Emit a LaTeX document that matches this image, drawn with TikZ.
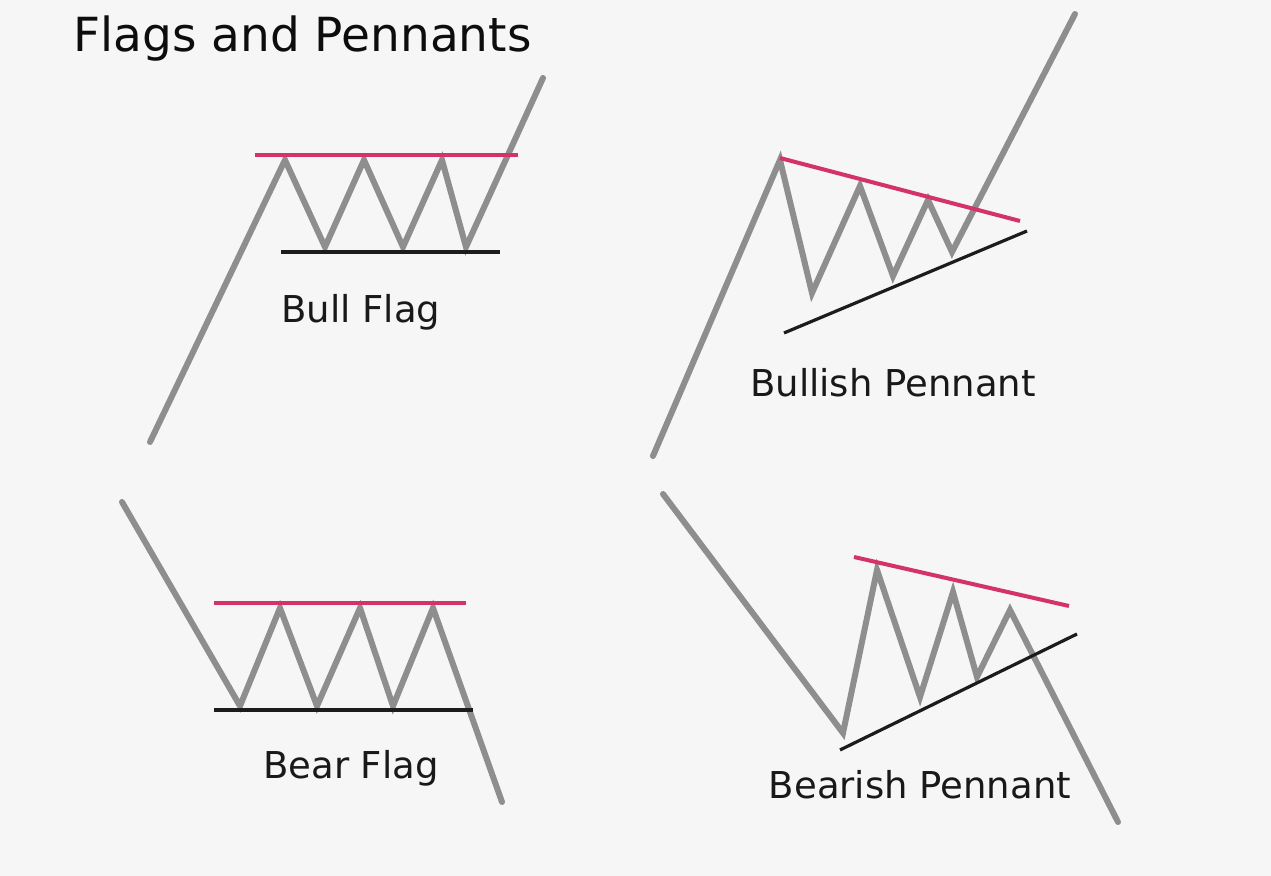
\documentclass[tikz,border=0pt]{standalone}
\usepackage{fontspec}
\setmainfont{DejaVu Sans}
\usetikzlibrary{positioning}
\definecolor{bgcol}{HTML}{F6F6F6}
\definecolor{pricecol}{HTML}{8E8E8E}
\definecolor{rescol}{HTML}{D4336A}
\definecolor{supcol}{HTML}{1C1C1C}

\begin{document}
\begin{tikzpicture}[
    x=0.5pt, y=-0.5pt,
    price/.style={draw=pricecol, line width=3pt, line join=miter, line cap=round},
    resist/.style={draw=rescol, line width=2pt},
    support/.style={draw=supcol, line width=1.6pt},
    patname/.style={font=\fontsize{18.5}{21}\selectfont, text=black!90, inner sep=0pt},
    headline/.style={font=\fontsize{23.5}{27}\selectfont, text=black!95, inner sep=0pt}
]
    % Background
    \fill[bgcol] (0,0) rectangle (1271,876);
    \useasboundingbox (0,0) rectangle (1271,876);

    % Title
    \node[headline, anchor=base west] (title) at (73,52) {Flags and Pennants};

    % Bull flag
    \coordinate (bf0) at (150,442);
    \coordinate (bf1) at (285,160);
    \coordinate (bf2) at (325,247);
    \coordinate (bf3) at (364,160);
    \coordinate (bf4) at (403,247);
    \coordinate (bf5) at (442,160);
    \coordinate (bf6) at (466,247);
    \coordinate (bf7) at (543,78);
    \coordinate (bfr1) at (255,155);
    \coordinate (bfr2) at (518,155);
    \coordinate (bfs1) at (281,252);
    \coordinate (bfs2) at (500,252);
    \draw[price] (bf0) -- (bf1) -- (bf2) -- (bf3) -- (bf4) -- (bf5) -- (bf6) -- (bf7);
    \draw[resist] (bfr1) -- (bfr2);
    \draw[support] (bfs1) -- (bfs2);
    \node[patname] (bullflag) at (361,312) {Bull Flag};

    % Bullish pennant
    \coordinate (bp0) at (653,456);
    \coordinate (bp1) at (780,160);
    \coordinate (bp2) at (812,293);
    \coordinate (bp3) at (860,186);
    \coordinate (bp4) at (893,276);
    \coordinate (bp5) at (928,200);
    \coordinate (bp6) at (952,252);
    \coordinate (bp7) at (1075,14);
    \coordinate (bpr1) at (780,158);
    \coordinate (bpr2) at (1020,221);
    \coordinate (bps1) at (784,333);
    \coordinate (bps2) at (1027,231);
    \draw[price] (bp0) -- (bp1) -- (bp2) -- (bp3) -- (bp4) -- (bp5) -- (bp6) -- (bp7);
    \draw[resist] (bpr1) -- (bpr2);
    \draw[support] (bps1) -- (bps2);
    \node[patname] (bullpen) at (893,383) {Bullish Pennant};

    % Bear flag
    \coordinate (rf0) at (122,502);
    \coordinate (rf1) at (240,706);
    \coordinate (rf2) at (280,608);
    \coordinate (rf3) at (317,706);
    \coordinate (rf4) at (360,608);
    \coordinate (rf5) at (393,706);
    \coordinate (rf6) at (433,608);
    \coordinate (rf7) at (502,802);
    \coordinate (rfr1) at (214,603);
    \coordinate (rfr2) at (466,603);
    \coordinate (rfs1) at (214,710);
    \coordinate (rfs2) at (473,710);
    \draw[price] (rf0) -- (rf1) -- (rf2) -- (rf3) -- (rf4) -- (rf5) -- (rf6) -- (rf7);
    \draw[resist] (rfr1) -- (rfr2);
    \draw[support] (rfs1) -- (rfs2);
    \node[patname] (bearflag) at (351,768) {Bear Flag};

    % Bearish pennant
    \coordinate (rp0) at (663,494);
    \coordinate (rp1) at (843,733);
    \coordinate (rp2) at (877,570);
    \coordinate (rp3) at (920,697);
    \coordinate (rp4) at (953,592);
    \coordinate (rp5) at (977,677);
    \coordinate (rp6) at (1010,610);
    \coordinate (rp7) at (1118,822);
    \coordinate (rpr1) at (854,557);
    \coordinate (rpr2) at (1069,606);
    \coordinate (rps1) at (840,750);
    \coordinate (rps2) at (1077,634);
    \draw[price] (rp0) -- (rp1) -- (rp2) -- (rp3) -- (rp4) -- (rp5) -- (rp6) -- (rp7);
    \draw[resist] (rpr1) -- (rpr2);
    \draw[support] (rps1) -- (rps2);
    \node[patname] (bearpen) at (920,785) {Bearish Pennant};
\end{tikzpicture}
\end{document}
